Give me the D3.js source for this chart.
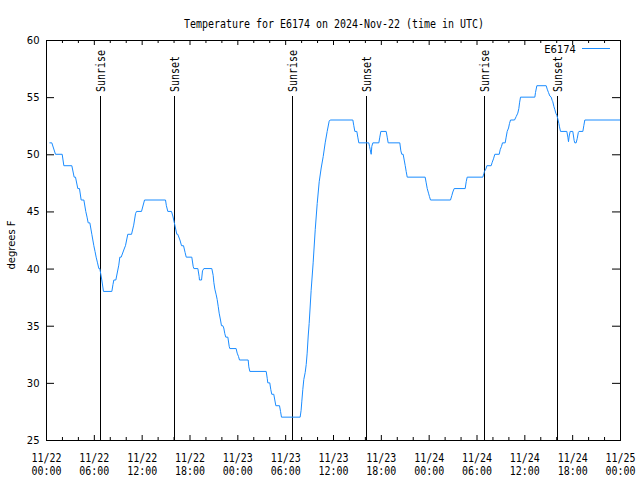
<!DOCTYPE html>
<html><head><meta charset="utf-8">
<script src="https://cdn.jsdelivr.net/npm/d3@7"></script>
<style>body{margin:0;background:#fff} svg{display:block}</style>
</head><body><svg id="c" width="640" height="480"></svg>
<script>
const title = "Temperature for E6174 on 2024-Nov-22 (time in UTC)";
const seriesName = "E6174";
const yLabel = "degrees F";
// hours since 2024-11-22 00:00 UTC
const hours = [0.44,0.73,1.19,2.03,2.24,3.24,3.53,3.70,3.99,4.20,4.41,4.75,4.99,5.15,5.29,5.50,5.75,6.0,6.15,6.29,6.46,6.63,6.75,7.0,7.21,8.26,8.40,8.51,8.76,9.13,9.26,9.43,9.85,9.97,10.26,10.73,11.0,11.23,11.35,11.98,12.36,14.99,15.1,15.28,15.74,15.91,16.1,16.41,16.53,16.8,17.0,17.25,17.45,17.59,18.29,18.46,18.55,19.05,19.21,19.25,19.51,19.63,19.8,20.8,20.97,21.05,21.18,21.35,21.47,21.6,21.72,21.89,22.01,22.18,22.3,22.43,22.55,22.81,22.98,23.06,23.85,23.98,24.15,24.27,25.36,25.44,25.57,27.62,27.75,27.82,28.07,28.2,28.32,28.57,28.7,28.83,29.29,29.42,29.54,31.88,32.0,32.09,32.21,32.34,32.51,32.64,32.76,32.89,33.01,33.26,33.51,33.77,34.02,34.27,34.52,34.77,35.02,35.27,35.52,35.65,38.49,38.61,38.74,38.99,39.11,39.24,40.49,40.58,40.67,40.79,40.87,41.0,41.75,41.87,42.0,42.67,42.8,42.92,44.38,44.51,44.63,44.8,44.93,45.06,45.18,45.31,47.56,47.69,47.82,47.98,48.1,48.23,50.74,50.91,51.03,51.2,52.58,52.71,52.83,54.79,54.92,55.0,55.17,55.3,55.84,55.97,56.13,56.3,56.85,56.97,57.14,57.26,57.6,57.72,57.85,58.02,58.14,58.27,58.77,58.98,59.18,59.31,59.4,59.52,61.32,61.4,61.57,62.74,62.87,63.03,63.2,63.37,63.5,63.57,63.7,63.83,63.95,64.08,64.2,64.33,64.41,64.54,65.33,65.46,65.54,65.63,65.75,66.08,66.25,66.33,66.5,66.64,66.77,66.85,67.34,67.46,67.59,72];
const temps = [51,51,50,50,49,49,48,48,47,47,46,46,45,44.5,44,44,43,42,41.5,41,40.5,40,40,39,38,38,38.6,39,39,40.3,41,41,41.8,42,43,43,43.8,44.8,45,45,46,46,45.5,45,45,44.6,44,43,43,42.5,42,42,41.4,41,41,40.2,40,40,39.3,39,39,39.8,40,40,39.4,38.8,38.2,37.7,37.3,36.7,36.1,35.5,35,35,34.8,34.3,34,34,33.2,33,33,32.6,32.3,32,32,31.4,31,31,30.4,30,30,29.4,29,29,28.5,28,28,27.5,27,27,27.6,28.4,29.4,30.3,30.9,31.6,32.6,34.1,35.2,38.1,40.5,43.4,45.7,47.6,48.8,49.8,51,52,52.9,53,53,52.5,52,52,51.5,51,51,50.7,50.4,50,50.7,51,51,51.5,52,52,51.5,51,51,50.3,50,50,49.5,49,48.5,48,48,47.5,47,46.6,46.3,46,46,46.4,46.7,47,47,47.6,48,48,48.3,48.5,48.7,49,49,49.3,49.6,50,50,50.4,50.7,51,51,51.5,52,52.3,52.7,53,53,53.3,53.6,54,54.5,55,55,55.4,56,56,55.7,55.4,55.1,55,54.7,54.6,54.2,53.9,53.6,53.4,53.1,52.7,52.4,52,52,51.5,51.1,51.6,52,52,51.2,51,51,51.4,51.9,52,52,52.5,53,53];
const xMajorHours = [0,6,12,18,24,30,36,42,48,54,60,66,72];
const xTickDates = ["11/22","11/22","11/22","11/22","11/23","11/23","11/23","11/23","11/24","11/24","11/24","11/24","11/25"];
const xTickTimes = ["00:00","06:00","12:00","18:00","00:00","06:00","12:00","18:00","00:00","06:00","12:00","18:00","00:00"];
const xMinorHours = [2,4,8,10,14,16,20,22,26,28,32,34,38,40,44,46,50,52,56,58,62,64,68,70];
const yTicks = [25,30,35,40,45,50,55,60];
const sunHours = [6.75,16.03,30.83,40.17,54.88,64.07];
const sunLabels = ["Sunrise","Sunset","Sunrise","Sunset","Sunrise","Sunset"];

const svg = d3.select("#c");
const L=46, R=620, T=40, B=440;
const x = d3.scaleLinear().domain([0,72]).range([L,R]);
const y = d3.scaleLinear().domain([25,60]).range([B,T]);
const blue = "#1a8cff";
const mono = "'DejaVu Sans Mono', monospace";
const sans = "'DejaVu Sans', sans-serif";

function monoText(g, str, attrs){
  const t = g.append("text").text(str)
    .attr("font-family", mono).attr("font-size", 12)
    .attr("textLength", str.length*6).attr("lengthAdjust","spacingAndGlyphs")
    .attr("fill","#000");
  for (const k in attrs) t.attr(k, attrs[k]);
  return t;
}

// axes ticks
function strip(g){ g.select(".domain").remove(); g.selectAll("text").remove(); g.selectAll("line").attr("stroke","#000"); }
svg.append("g").attr("transform",`translate(0,${B})`)
  .call(d3.axisBottom(x).tickValues(xMajorHours).tickSizeInner(-5).tickSizeOuter(0)).call(strip);
svg.append("g").attr("transform",`translate(0,${B})`)
  .call(d3.axisBottom(x).tickValues(xMinorHours).tickSizeInner(-3).tickSizeOuter(0)).call(strip);
svg.append("g").attr("transform",`translate(0,${T})`)
  .call(d3.axisTop(x).tickValues(xMajorHours).tickSizeInner(-5).tickSizeOuter(0)).call(strip);
svg.append("g").attr("transform",`translate(0,${T})`)
  .call(d3.axisTop(x).tickValues(xMinorHours).tickSizeInner(-3).tickSizeOuter(0)).call(strip);
svg.append("g").attr("transform",`translate(${L},0)`)
  .call(d3.axisLeft(y).tickValues(yTicks).tickSizeInner(-8).tickSizeOuter(0)).call(strip);
svg.append("g").attr("transform",`translate(${R},0)`)
  .call(d3.axisRight(y).tickValues(yTicks).tickSizeInner(-8).tickSizeOuter(0)).call(strip);

// y labels
svg.append("g").selectAll("text").data(yTicks).join("text")
  .attr("x", 39.5).attr("y", d=>y(d)+0.5).attr("dy","0.35em")
  .attr("text-anchor","end").attr("font-family",sans).attr("font-size",10)
  .text(d=>d);

// x labels
const xl = svg.append("g");
xMajorHours.forEach((h,i)=>{
  monoText(xl, xTickDates[i], {x:x(h)+0.5, y:462, "text-anchor":"middle"});
  monoText(xl, xTickTimes[i], {x:x(h)+0.5, y:475, "text-anchor":"middle"});
});

// title
monoText(svg, title, {x:334, y:28, "text-anchor":"middle"}).attr("textLength",300);

// y axis label
svg.append("text").attr("transform","translate(11,245) rotate(-90)")
  .attr("text-anchor","middle").attr("dy","0.35em")
  .attr("font-family",sans).attr("font-size",10).text(yLabel);

// border
svg.append("rect").attr("x",L+0.5).attr("y",T+0.5).attr("width",R-L).attr("height",B-T)
  .attr("fill","none").attr("stroke","#000");

// sun lines
const sg = svg.append("g");
sunHours.forEach((h,i)=>{
  const xp = Math.round(x(h))+0.5;
  sg.append("line").attr("x1",xp).attr("x2",xp).attr("y1",96).attr("y2",B)
    .attr("stroke","#000").attr("stroke-width",1);
  monoText(sg, sunLabels[i], {transform:`translate(${xp},92) rotate(-90)`, "text-anchor":"start", dy:"0.35em"});
});

// data line
const line = d3.line().x((d,i)=>x(hours[i])).y((d,i)=>y(temps[i]));
svg.append("path").datum(temps).attr("d", line)
  .attr("fill","none").attr("stroke",blue).attr("stroke-width",1);

// legend
svg.append("text").attr("x",576).attr("y",53).attr("text-anchor","end")
  .attr("font-family",sans).attr("font-size",10).text(seriesName);
svg.append("line").attr("x1",582).attr("x2",610).attr("y1",48.5).attr("y2",48.5)
  .attr("stroke",blue).attr("stroke-width",1);
</script></body></html>
